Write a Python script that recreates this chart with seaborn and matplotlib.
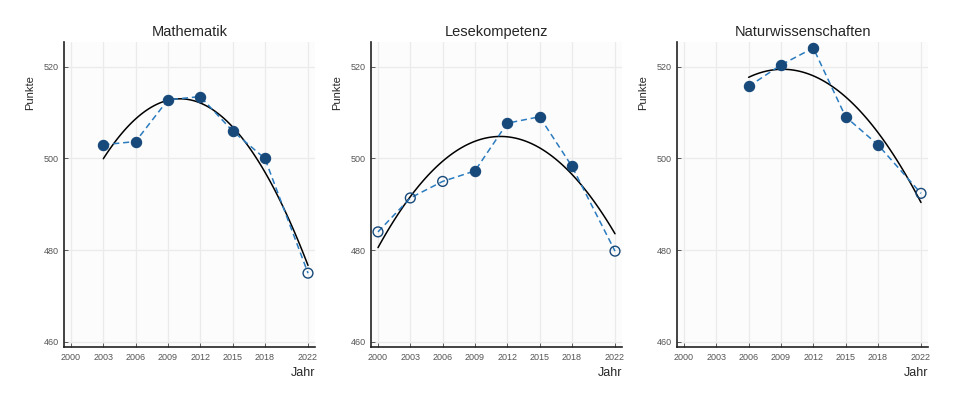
import pandas as pd
import numpy as np
import matplotlib
matplotlib.use("Agg")
import matplotlib.pyplot as plt
import seaborn as sns

# PISA results Germany
subjects = ["Mathematik", "Lesekompetenz", "Naturwissenschaften"]

math_years = [2003, 2006, 2009, 2012, 2015, 2018, 2022]
math_scores = [503, 503.7, 512.8, 513.5, 506, 500, 475]
math_filled = [True, True, True, True, True, True, False]

read_years = [2000, 2003, 2006, 2009, 2012, 2015, 2018, 2022]
read_scores = [484, 491.4, 495, 497.3, 507.7, 509.1, 498.3, 479.8]
read_filled = [False, False, False, True, True, True, True, False]

sci_years = [2006, 2009, 2012, 2015, 2018, 2022]
sci_scores = [515.7, 520.4, 524.1, 509.1, 503, 492.4]
sci_filled = [True, True, True, True, True, False]

tick_years = [2000, 2003, 2006, 2009, 2012, 2015, 2018, 2022]
tick_scores = [460, 480, 500, 520]

DARK = "#17497a"
LINE = "#2b7bbf"

sns.set_theme(style="white")
plt.rcParams['font.family'] = ['Liberation Sans', 'DejaVu Sans']

fig = plt.figure(figsize=(9.68, 3.99), dpi=100)
lefts = [64, 371, 677]

data = [(math_years, math_scores, math_filled),
        (read_years, read_scores, read_filled),
        (sci_years, sci_scores, sci_filled)]

for i, (title, (yrs, sc, fl)) in enumerate(zip(subjects, data)):
    ax = fig.add_axes([lefts[i] / 968, 52 / 399, 251 / 968, 305 / 399])
    ax.set_facecolor("#fcfcfc")
    df = pd.DataFrame({"Jahr": yrs, "Punkte": sc, "filled": fl})

    # quadratic trend
    sns.regplot(data=df, x="Jahr", y="Punkte", order=2, ci=None, scatter=False,
                line_kws={"color": "black", "lw": 1.1, "zorder": 2}, ax=ax)
    sns.lineplot(data=df, x="Jahr", y="Punkte", color=LINE, lw=1.1,
                 linestyle=(0, (4, 2.5)), ax=ax, zorder=3)
    sns.scatterplot(data=df[df.filled], x="Jahr", y="Punkte", color=DARK,
                    s=55, edgecolor=DARK, linewidth=0.8, ax=ax, zorder=4)
    sns.scatterplot(data=df[~df.filled], x="Jahr", y="Punkte", facecolor="none",
                    s=50, edgecolor=DARK, linewidth=1.0, ax=ax, zorder=4)

    ax.set_xlim(1999.35, 2022.65)
    ax.set_ylim(458.9, 525.4)
    ax.set_xticks(tick_years)
    ax.set_yticks(tick_scores)
    ax.grid(True, color="#ebebeb", lw=0.9)
    ax.set_axisbelow(True)
    for s in ["top", "right"]:
        ax.spines[s].set_visible(False)
    for s in ["left", "bottom"]:
        ax.spines[s].set_color("#222222")
        ax.spines[s].set_linewidth(1.2)
    ax.tick_params(direction="in", length=3, width=0.6, color="#444444",
                   labelsize=6.5, labelcolor="#555555", pad=4,
                   bottom=True, left=True)
    ax.set_title(title, fontsize=10.5, pad=4)
    ax.set_xlabel("Jahr", fontsize=9, ha="right")
    ax.xaxis.set_label_coords(1.0, -0.065)
    ax.set_ylabel("Punkte", fontsize=8)
    ax.yaxis.set_label_coords(-0.115, 0.835)

fig.savefig("out.png", dpi=100, facecolor="white")
